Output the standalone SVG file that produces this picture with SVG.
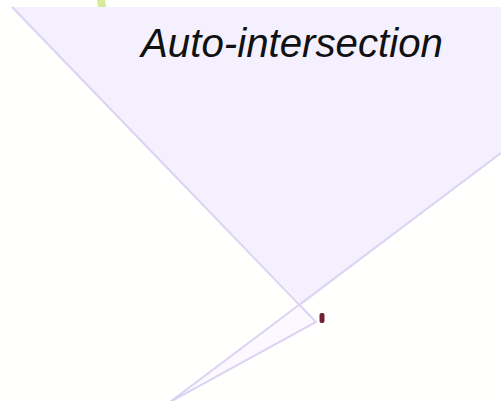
<svg xmlns="http://www.w3.org/2000/svg" width="501" height="401" viewBox="0 0 501 401">
<style>
.fill-main{fill:#f4f0fd;stroke:none}
.fill-lobe{fill:#fbf9ff;stroke:none}
.edge{fill:none;stroke:#dcd3f3;stroke-width:2;stroke-linejoin:miter}
.lbl{font-family:"Liberation Sans",Arial,sans-serif;font-style:italic;font-size:41px;fill:#111}
</style>
<rect width="501" height="401" fill="#fffffd"/>
<g id="polygon">
<polygon class="fill-main" points="12,7 501,7 501,153 302,305"/>
<polygon class="fill-lobe" points="302,305 316,322 170,402"/>
<path class="edge" d="M501,153 L170,402 L316,322 L12,7"/>
</g>
<g id="mark-top">
<polygon points="97,0 105,0 106,7 98,7" fill="#d8ea9c"/>
</g>
<g id="mark-red">
<rect x="319.5" y="313" width="5" height="10" rx="2" fill="#6e2233"/>
</g>
<g id="label">
<text class="lbl" x="141" y="57" textLength="302" lengthAdjust="spacingAndGlyphs">Auto-intersection</text>
</g>
</svg>
